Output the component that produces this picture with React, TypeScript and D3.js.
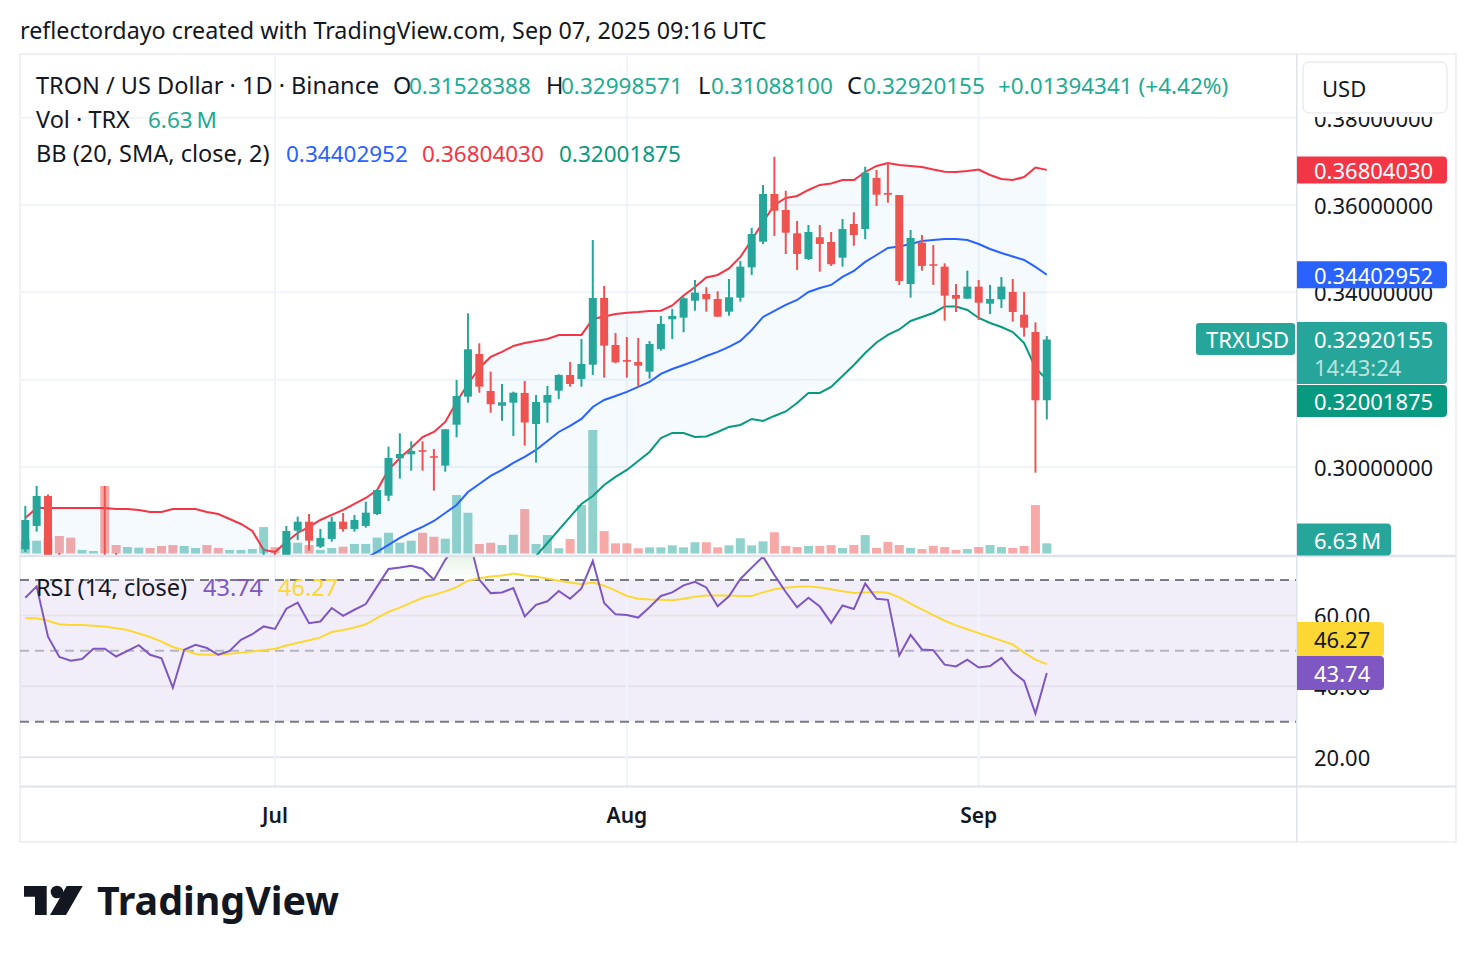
import React from 'react';
import * as d3 from 'd3';

// ---- data ----
const startDate = '2025-06-09';
const opens = [0.28116,0.28650,0.29337,0.27650,0.27400,0.27050,0.27250,0.27450,0.27350,0.27200,0.27450,0.27600,0.27350,0.27050,0.26800,0.27050,0.27200,0.27000,0.26750,0.27000,0.27200,0.27400,0.27980,0.27880,0.28542,0.28748,0.28176,0.28352,0.28748,0.28581,0.28650,0.28924,0.29343,0.30200,0.30291,0.30383,0.30246,0.30031,0.30969,0.31611,0.32588,0.31741,0.31404,0.31473,0.31695,0.30985,0.31473,0.31748,0.32108,0.32016,0.32343,0.33871,0.32795,0.32451,0.32405,0.32183,0.32703,0.33383,0.33420,0.33809,0.33962,0.33848,0.33557,0.33878,0.34574,0.35160,0.36252,0.35886,0.35352,0.34764,0.35261,0.35153,0.34794,0.35565,0.35451,0.36619,0.36275,0.36229,0.34191,0.35137,0.34643,0.34588,0.33940,0.33855,0.34130,0.33740,0.33841,0.34008,0.33488,0.33092,0.31528388];
const highs = [0.29108,0.29566,0.29370,0.28030,0.27700,0.27450,0.27600,0.29566,0.28030,0.27600,0.27750,0.27800,0.27500,0.27200,0.27200,0.27300,0.27350,0.27150,0.27150,0.27300,0.27500,0.28139,0.28054,0.28650,0.28863,0.28924,0.28581,0.28863,0.28947,0.28902,0.29206,0.29474,0.30466,0.30772,0.30589,0.30589,0.30413,0.30864,0.31993,0.33520,0.32833,0.32183,0.31901,0.31725,0.31970,0.31650,0.31856,0.32124,0.32405,0.32932,0.35199,0.34146,0.33069,0.32978,0.32955,0.32886,0.33459,0.33619,0.33887,0.34283,0.34116,0.34024,0.34306,0.34718,0.35474,0.36459,0.37107,0.36328,0.35634,0.35543,0.35543,0.35382,0.35680,0.35833,0.36877,0.36802,0.36969,0.36229,0.35428,0.35313,0.35085,0.34665,0.34191,0.34496,0.34283,0.34169,0.34352,0.34306,0.34008,0.33314,0.32998571];
const lows = [0.28054,0.28519,0.27350,0.27000,0.26800,0.26900,0.27050,0.27200,0.27000,0.27000,0.27250,0.27200,0.26900,0.26600,0.26650,0.26900,0.26900,0.26600,0.26650,0.26900,0.27050,0.27250,0.27600,0.27750,0.28329,0.28084,0.28146,0.28290,0.28519,0.28519,0.28611,0.28902,0.29222,0.29733,0.29916,0.29916,0.29458,0.29893,0.30681,0.31473,0.31702,0.31244,0.31061,0.30711,0.30489,0.30099,0.31015,0.31558,0.31840,0.31840,0.32108,0.32046,0.32375,0.32046,0.31840,0.32023,0.32664,0.32932,0.33085,0.33580,0.33557,0.33443,0.33466,0.33786,0.34398,0.35108,0.35291,0.34878,0.34512,0.34741,0.34473,0.34604,0.34588,0.35069,0.35222,0.35978,0.36053,0.34169,0.33878,0.34496,0.34169,0.33351,0.33550,0.33855,0.33367,0.33504,0.33642,0.33328,0.32985,0.29870,0.31088100];
const closes = [0.28787,0.29337,0.27600,0.27350,0.27050,0.27250,0.27400,0.27350,0.27200,0.27450,0.27600,0.27350,0.27050,0.26800,0.27050,0.27200,0.27000,0.26750,0.27000,0.27200,0.27400,0.27950,0.27850,0.28535,0.28748,0.28313,0.28375,0.28748,0.28581,0.28787,0.28954,0.29474,0.30207,0.30298,0.30367,0.30351,0.30214,0.30864,0.31627,0.32696,0.31840,0.31437,0.31482,0.31702,0.31020,0.31489,0.31650,0.32108,0.31901,0.32359,0.33871,0.32779,0.32398,0.32412,0.32321,0.32817,0.33275,0.33459,0.33864,0.33992,0.33841,0.33443,0.33887,0.34588,0.35336,0.36252,0.35870,0.35366,0.34878,0.35382,0.35108,0.34643,0.35451,0.35313,0.36740,0.36236,0.36236,0.34260,0.35245,0.34604,0.34611,0.33924,0.33855,0.34130,0.33763,0.33848,0.34130,0.33550,0.33191,0.31528,0.32920155];
const volumesM = [8.3,8.3,9.9,11.4,10.3,2.3,1.6,43.9,5.5,4.2,3.8,3.6,4.9,5.5,4.9,3.6,5.5,3.6,2.3,2.3,2.9,17.2,4.1,7.0,7.0,5.5,2.3,3.6,4.4,6.2,6.2,10.3,13.5,7.0,8.3,13.5,10.9,9.6,38.0,26.5,6.2,7.0,5.5,12.2,28.9,6.2,12.0,3.4,9.4,31.5,80.3,14.6,6.6,6.6,3.4,4.0,4.0,5.3,4.0,7.3,7.3,4.0,5.3,9.9,5.3,7.9,13.8,4.9,4.2,4.9,4.9,5.5,3.6,5.5,12.0,3.6,7.5,5.5,3.6,2.9,4.9,4.2,2.3,2.9,4.2,5.5,4.2,3.6,4.9,31.5,6.63];
const bbUpper = [0.28833,0.29062,0.29062,0.29062,0.29062,0.29062,0.29062,0.29062,0.29039,0.29039,0.29016,0.28970,0.28970,0.29039,0.29039,0.29039,0.28970,0.28924,0.28810,0.28695,0.28535,0.28100,0.28054,0.28283,0.28489,0.28627,0.28787,0.28902,0.29016,0.29153,0.29291,0.29474,0.29933,0.30207,0.30436,0.30687,0.30802,0.31031,0.31489,0.31901,0.32268,0.32520,0.32635,0.32772,0.32840,0.32886,0.32932,0.33024,0.33024,0.33024,0.33390,0.33448,0.33504,0.33534,0.33550,0.33573,0.33580,0.33699,0.33928,0.34122,0.34340,0.34398,0.34546,0.34810,0.35199,0.35611,0.36000,0.36161,0.36207,0.36344,0.36459,0.36493,0.36573,0.36573,0.36756,0.36894,0.36962,0.36917,0.36894,0.36871,0.36813,0.36763,0.36756,0.36779,0.36813,0.36688,0.36596,0.36573,0.36642,0.36859,0.36804030];
const bbBasis = [null,null,null,null,null,null,null,null,null,null,null,null,null,null,null,null,null,null,null,null,null,null,null,null,null,null,null,null,null,null,0.27917,0.28054,0.28215,0.28375,0.28512,0.28627,0.28764,0.28947,0.29130,0.29428,0.29612,0.29795,0.29933,0.30093,0.30230,0.30390,0.30596,0.30802,0.30940,0.31100,0.31375,0.31535,0.31627,0.31719,0.31833,0.31948,0.32131,0.32245,0.32337,0.32429,0.32541,0.32635,0.32749,0.32886,0.33138,0.33436,0.33574,0.33711,0.33825,0.34008,0.34100,0.34169,0.34352,0.34490,0.34697,0.34855,0.35016,0.35050,0.35107,0.35176,0.35199,0.35222,0.35222,0.35199,0.35107,0.34993,0.34901,0.34821,0.34741,0.34581,0.34402952];
const bbLower = [null,null,null,null,null,null,null,null,null,null,null,null,null,null,null,null,null,null,null,null,null,null,null,null,null,null,null,null,null,null,null,null,null,null,null,null,null,null,null,null,null,null,null,null,0.27528,0.27963,0.28260,0.28558,0.28856,0.29153,0.29337,0.29589,0.29772,0.29933,0.30139,0.30345,0.30665,0.30780,0.30780,0.30687,0.30699,0.30802,0.30917,0.30963,0.31100,0.31054,0.31169,0.31272,0.31466,0.31695,0.31695,0.31833,0.32085,0.32337,0.32612,0.32852,0.33024,0.33149,0.33344,0.33436,0.33527,0.33676,0.33676,0.33596,0.33413,0.33298,0.33207,0.33092,0.32840,0.32268,0.32001875];
const rsiValues = [65.0,68.2,54.0,48.3,47.2,47.7,50.6,50.6,48.4,50.0,51.6,48.9,47.9,39.6,50.3,51.7,50.8,48.9,50.0,53.1,54.7,56.9,56.2,61.9,63.6,57.8,58.3,62.1,59.9,61.6,63.2,68.2,73.1,73.5,74.0,73.2,70.1,75.7,80.0,83.0,70.1,66.3,66.5,67.7,59.7,63.0,64.0,66.9,64.7,67.6,75.4,63.5,60.3,60.1,59.4,62.3,65.5,66.5,68.5,69.5,67.9,62.6,65.4,70.3,73.5,76.6,71.4,66.6,62.3,65.0,62.5,57.9,62.8,61.8,69.0,64.7,64.4,48.7,54.5,50.4,50.2,46.1,45.6,47.5,45.3,45.7,48.0,44.0,41.5,32.3,43.74];
const rsiMaValues = [59.2,59.2,58.5,57.5,57.3,57.3,57.1,56.9,56.4,55.9,54.9,53.9,52.6,51.1,50.2,49.1,48.9,48.9,49.2,49.5,49.8,50.2,50.6,51.5,52.3,53.0,53.8,55.3,55.9,56.6,57.5,59.3,61.0,62.2,63.6,65.0,65.8,66.8,68.0,69.8,70.5,71.0,71.3,71.8,71.3,70.9,70.4,69.8,69.3,68.8,69.3,68.4,67.0,65.5,64.7,64.5,64.4,64.3,64.7,65.3,65.6,65.6,65.6,65.5,65.5,66.5,67.4,67.8,68.1,68.2,67.9,67.4,66.8,66.3,66.5,66.6,66.4,65.1,63.3,61.7,60.1,58.5,57.2,56.1,55.0,54.0,52.9,51.8,49.5,47.5,46.27];
const priceTicks = [0.30, 0.32, 0.34, 0.36, 0.38];
const hiddenPriceTicks = [0.32];
const rsiTicks = [20, 40, 60];
const rsiBands = [70, 30];
const rsiMid = 50;
const monthTicks = ['2025-07-01', '2025-08-01', '2025-09-01'];
const monthLabels = ['Jul', 'Aug', 'Sep'];

const FONT = "'Noto Sans', 'DejaVu Sans', sans-serif";
const UP = '#26a69a';
const DOWN = '#ef5350';
const TXT = '#131722';
const GRID = '#f0f3fa';
const BORDER = '#e0e3eb';
const LEG_VAL = '#22ab94';

export default function App() {
  const t0 = new Date(startDate + 'T00:00:00Z');
  const dates = opens.map((_, i) => d3.utcDay.offset(t0, i));
  const x = d3.scaleUtc().domain([dates[0], dates[dates.length - 1]]).range([25.3, 1046.8]);
  const y = d3.scaleLinear().domain([0.30, 0.36]).range([467, 205]);
  const yv = d3.scaleLinear().domain([0, 100]).range([553.5, 399.7]);
  const yr = d3.scaleLinear().domain([30, 70]).range([721.7, 580]);

  const plotL = 20, plotR = 1296.5, mainT = 54.5, mainB = 555, rsiT = 557, rsiB = 786;

  const bandLine = d3.line<number | null>()
    .defined(v => v != null)
    .x((_, i) => x(dates[i]))
    .y(v => y(v as number));
  const bandFill = d3.area<number>()
    .x((_, i) => x(dates[i]))
    .y0((_, i) => y(bbLower[i] ?? 0.26))
    .y1(v => y(v));
  const rsiLine = d3.line<number>().x((_, i) => x(dates[i])).y(v => yr(v));
  const rsiArea = d3.area<number>().x((_, i) => x(dates[i])).y0(yr(70)).y1(v => yr(v));

  const fmt8 = (v: number) => v.toFixed(8);
  const lastIdx = closes.length - 1;

  const label = (yc: number, w: number, h: number, fill: string) => (
    <path d={`M1297,${yc - h / 2} H${1297 + w - 4} a4,4 0 0 1 4,4 V${yc + h / 2 - 4} a4,4 0 0 1 -4,4 H1297 Z`} fill={fill} />
  );

  return (
    <svg width={1476} height={962} style={{ position: 'absolute', left: 0, top: 0, background: '#fff' }} fontFamily={FONT}>
      <defs>
        <clipPath id="mainClip"><rect x={plotL} y={mainT} width={plotR - plotL} height={mainB - mainT} /></clipPath>
        <clipPath id="rsiClip"><rect x={plotL} y={rsiT} width={plotR - plotL} height={rsiB - rsiT} /></clipPath>
        <clipPath id="obClip"><rect x={plotL} y={rsiT} width={plotR - plotL} height={yr(70) - rsiT} /></clipPath>
        <linearGradient id="obGrad" gradientUnits="userSpaceOnUse" x1={0} x2={0} y1={yr(70)} y2={yr(100)}>
          <stop offset="0" stopColor="#4caf50" stopOpacity={0} />
          <stop offset="1" stopColor="#4caf50" stopOpacity={0.6} />
        </linearGradient>
      </defs>
      <rect x={0} y={0} width={1476} height={962} fill="#fff" />

      <text x={20} y={30} fontSize={23.3} fill={TXT} dominantBaseline="central">reflectordayo created with TradingView.com, Sep 07, 2025 09:16 UTC</text>

      {/* frame */}
      <rect x={20} y={54} width={1436} height={788} fill="none" stroke={BORDER} strokeWidth={1} />

      {/* grid main */}
      <g clipPath="url(#mainClip)">
        {priceTicks.map(p => <line key={p} x1={plotL} x2={plotR} y1={y(p)} y2={y(p)} stroke={GRID} strokeWidth={2} />)}
        {monthTicks.map(m => { const xx = x(new Date(m + 'T00:00:00Z')); return <line key={m} x1={xx} x2={xx} y1={mainT} y2={mainB} stroke={GRID} strokeWidth={2} />; })}
      </g>
      {/* grid rsi */}
      <g clipPath="url(#rsiClip)">
        <rect x={plotL} y={yr(70)} width={plotR - plotL} height={yr(30) - yr(70)} fill="rgba(126,87,194,0.1)" />
        {rsiTicks.map(r => <line key={r} x1={plotL} x2={plotR} y1={yr(r)} y2={yr(r)} stroke="#e6e3ee" strokeWidth={2} />)}
        {monthTicks.map(m => { const xx = x(new Date(m + 'T00:00:00Z')); return <line key={m} x1={xx} x2={xx} y1={rsiT} y2={rsiB} stroke={GRID} strokeWidth={2} />; })}
      </g>

      {/* main pane */}
      <g clipPath="url(#mainClip)">
        {volumesM.map((v, i) => (
          <rect key={i} x={x(dates[i]) - 4.5} width={9} y={yv(v)} height={yv(0) - yv(v)}
            fill={closes[i] >= opens[i] ? 'rgba(38,166,154,0.5)' : 'rgba(239,83,80,0.5)'} />
        ))}
        <path d={bandFill(bbUpper) || ''} fill="rgba(33,150,243,0.05)" />
        <path d={bandLine(bbUpper) || ''} fill="none" stroke="#f23645" strokeWidth={2} />
        <path d={bandLine(bbBasis) || ''} fill="none" stroke="#2962ff" strokeWidth={2} />
        <path d={bandLine(bbLower) || ''} fill="none" stroke="#089981" strokeWidth={2} />
        {opens.map((o, i) => {
          const c = closes[i];
          const col = c >= o ? UP : DOWN;
          const xx = x(dates[i]);
          const top = y(Math.max(o, c));
          const bot = y(Math.min(o, c));
          return (
            <g key={i}>
              <line x1={xx} x2={xx} y1={y(highs[i])} y2={y(lows[i])} stroke={col} strokeWidth={2} />
              <rect x={xx - 4} width={8} y={top} height={Math.max(1.5, bot - top)} fill={col} />
            </g>
          );
        })}
      </g>

      {/* rsi pane */}
      <g clipPath="url(#rsiClip)">
        <g clipPath="url(#obClip)">
          <path d={rsiArea(rsiValues) || ''} fill="url(#obGrad)" />
        </g>
        {rsiBands.map(r => <line key={r} x1={plotL} x2={plotR} y1={yr(r)} y2={yr(r)} stroke="#787b86" strokeWidth={2} strokeDasharray="9 6" />)}
        <line x1={plotL} x2={plotR} y1={yr(rsiMid)} y2={yr(rsiMid)} stroke="rgba(120,123,134,0.5)" strokeWidth={2} strokeDasharray="9 6" />
        <path d={rsiLine(rsiMaValues) || ''} fill="none" stroke="#fdd835" strokeWidth={2} />
        <path d={rsiLine(rsiValues) || ''} fill="none" stroke="#7e57c2" strokeWidth={2} />
      </g>

      {/* separators */}
      <line x1={20} x2={1456} y1={556} y2={556} stroke={BORDER} strokeWidth={2.5} />
      <line x1={20} x2={1456} y1={786.5} y2={786.5} stroke={BORDER} strokeWidth={2} />
      <line x1={1296.8} x2={1296.8} y1={54} y2={842} stroke={BORDER} strokeWidth={1.5} />

      {/* legends */}
      <g fontSize={23.5} dominantBaseline="central">
        <text x={36} y={85} fill={TXT}>TRON / US Dollar · 1D · Binance</text>
        <text x={393} y={85} fill={TXT}>O</text>
        <text x={546} y={85} fill={TXT}>H</text>
        <text x={698} y={85} fill={TXT}>L</text>
        <text x={847} y={85} fill={TXT}>C</text>
        <text x={36} y={119} fill={TXT}>Vol · TRX</text>
        <text x={36} y={153} fill={TXT}>BB (20, SMA, close, 2)</text>
        <text x={36} y={587} fill={TXT}>RSI (14, close)</text>
        <text x={203} y={587} fill="#7e57c2">{rsiValues[lastIdx].toFixed(2)}</text>
        <text x={278} y={587} fill="#fdd835">{rsiMaValues[lastIdx].toFixed(2)}</text>
      </g>
      <g fontSize={22.5} dominantBaseline="central">
        <text x={409} y={85} fill={LEG_VAL}>{fmt8(opens[lastIdx])}</text>
        <text x={561} y={85} fill={LEG_VAL}>{fmt8(highs[lastIdx])}</text>
        <text x={711} y={85} fill={LEG_VAL}>{fmt8(lows[lastIdx])}</text>
        <text x={863} y={85} fill={LEG_VAL}>{fmt8(closes[lastIdx])}</text>
        <text x={998} y={85} fill={LEG_VAL}>+0.01394341 (+4.42%)</text>
        <text x={148} y={119} fill={LEG_VAL}>{volumesM[lastIdx].toFixed(2)}{'\u202F'}M</text>
        <text x={286} y={153} fill="#2962ff">{fmt8(bbBasis[lastIdx] as number)}</text>
        <text x={422} y={153} fill="#f23645">{fmt8(bbUpper[lastIdx])}</text>
        <text x={559} y={153} fill="#089981">{fmt8(bbLower[lastIdx] as number)}</text>
      </g>

      {/* price axis */}
      <g fontSize={22} dominantBaseline="central" fill={TXT}>
        {priceTicks.filter(p => !hiddenPriceTicks.includes(p)).map(p => <text key={p} x={1314} y={y(p)}>{fmt8(p)}</text>)}
        {rsiTicks.map(r => <text key={r} x={1314} y={yr(r)}>{r.toFixed(2)}</text>)}
      </g>
      <rect x={1298} y={55} width={157} height={62} fill="#fff" />
      <rect x={1303} y={62} width={144} height={51} rx={6} fill="#fff" stroke={BORDER} strokeWidth={1} />
      <text x={1322} y={88} fontSize={22} fill={TXT} dominantBaseline="central">USD</text>

      <g fontSize={22} dominantBaseline="central">
        {label(y(bbUpper[lastIdx]), 150, 27, '#f23645')}
        <text x={1314} y={y(bbUpper[lastIdx])} fill="#fff">{fmt8(bbUpper[lastIdx])}</text>
        {label(y(bbBasis[lastIdx] as number), 150, 27, '#2962ff')}
        <text x={1314} y={y(bbBasis[lastIdx] as number)} fill="#fff">{fmt8(bbBasis[lastIdx] as number)}</text>
        {label(353, 150, 62, UP)}
        <text x={1314} y={339} fill="#fff">{fmt8(closes[lastIdx])}</text>
        <text x={1314} y={367} fill="rgba(255,255,255,0.7)">14:43:24</text>
        {label(401, 150, 32, '#089981')}
        <text x={1314} y={401} fill="#fff">{fmt8(bbLower[lastIdx] as number)}</text>
        <rect x={1196} y={323} width={99} height={32} rx={3} fill={UP} />
        <text x={1206} y={339} fill="#fff">TRXUSD</text>
        {label(539.5, 94, 32, UP)}
        <text x={1314} y={539.5} fill="#fff">{volumesM[lastIdx].toFixed(2)}{'\u202F'}M</text>
        {label(639, 87, 34, '#fdd835')}
        <text x={1314} y={639} fill={TXT}>{rsiMaValues[lastIdx].toFixed(2)}</text>
        {label(673, 87, 34, '#7e57c2')}
        <text x={1314} y={673} fill="#fff">{rsiValues[lastIdx].toFixed(2)}</text>
      </g>

      {/* time axis */}
      <g fontSize={21} fontWeight={600} fill={TXT} textAnchor="middle" dominantBaseline="central">
        {monthTicks.map((m, k) => <text key={m} x={x(new Date(m + 'T00:00:00Z'))} y={815}>{monthLabels[k]}</text>)}
      </g>

      {/* logo */}
      <g fill="#131722">
        <path d="M24,886 H46.7 V915 H35 V896.7 H24 Z" />
        <circle cx={57} cy={892} r={6.3} />
        <path d="M66.7,886 H82.7 L66,915 H50 Z" />
        <text x={97} y={915} fontSize={40} fontWeight={700} textLength={242} lengthAdjust="spacingAndGlyphs">TradingView</text>
      </g>
    </svg>
  );
}
